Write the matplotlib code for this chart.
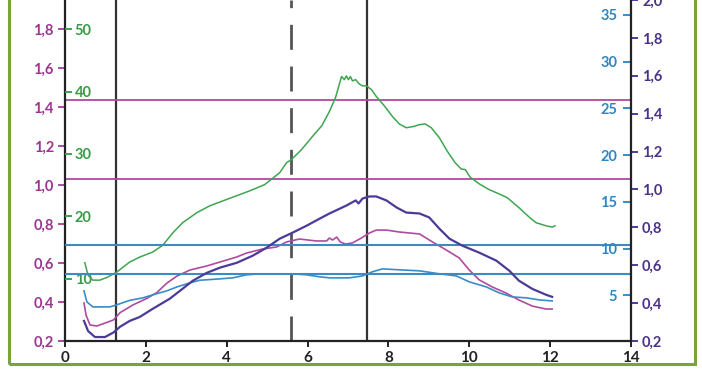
import matplotlib.pyplot as plt
from matplotlib.patches import Rectangle

plt.rcParams['font.family'] = ['Lato', 'DejaVu Sans']

# оси
x_ticks = [0, 2, 4, 6, 8, 10, 12, 14]
magenta_ticks = [0.2, 0.4, 0.6, 0.8, 1.0, 1.2, 1.4, 1.6, 1.8]
green_ticks = [10, 20, 30, 40, 50]
blue_ticks = [5, 10, 15, 20, 25, 30, 35]
purple_ticks = [0.2, 0.4, 0.6, 0.8, 1.0, 1.2, 1.4, 1.6, 1.8, 2.0]

# вертикальные и горизонтальные линии
vlines_solid = [1.26, 7.46]
vline_dashed = 5.58
magenta_levels = [1.435, 1.03]
blue_levels = [10.4, 7.3]

# зеленая кривая (левая внутренняя шкала)
green_x = [0.49, 0.57, 0.69, 0.86, 1.06, 1.28, 1.60, 1.85, 2.17, 2.42,
           2.67, 2.91, 3.26, 3.58, 3.99, 4.57, 4.94, 5.31, 5.48, 5.60,
           5.85, 6.12, 6.35, 6.54, 6.69, 6.84, 6.91, 6.96, 7.01, 7.06,
           7.11, 7.19, 7.28, 7.36, 7.46, 7.58, 7.70, 7.90, 8.10, 8.27,
           8.44, 8.62, 8.77, 8.91, 9.06, 9.26, 9.46, 9.65, 9.80, 9.90,
           10.02, 10.25, 10.49, 10.74, 10.94, 11.23, 11.48, 11.65, 11.90, 12.05,
           12.12]
green_y = [12.6, 10.6, 9.8, 9.8, 10.3, 11.1, 12.7, 13.5, 14.3, 15.4,
           17.4, 19.0, 20.6, 21.7, 22.7, 24.1, 25.1, 27.0, 28.6, 29.1,
           30.7, 32.8, 34.5, 36.8, 39.0, 42.4, 41.9, 42.5, 41.9, 42.4,
           41.7, 41.9, 41.2, 40.9, 40.9, 40.3, 39.2, 37.7, 36.0, 34.8,
           34.2, 34.4, 34.7, 34.8, 34.2, 32.6, 30.4, 28.6, 27.6, 27.5,
           26.3, 25.2, 24.3, 23.6, 23.0, 21.4, 19.9, 19.0, 18.5, 18.3,
           18.5]

# фиолетовая кривая (правая внешняя шкала)
purple_x = [0.47, 0.57, 0.74, 0.99, 1.20, 1.36, 1.60, 1.85, 2.17, 2.59,
            2.91, 3.16, 3.51, 3.83, 4.25, 4.64, 4.99, 5.31, 5.63, 5.98,
            6.30, 6.54, 6.96, 7.19, 7.26, 7.36, 7.53, 7.70, 7.95, 8.20,
            8.44, 8.77, 9.01, 9.26, 9.51, 9.83, 10.25, 10.67, 10.99, 11.23,
            11.56, 11.90, 12.05]
purple_y = [0.306, 0.253, 0.221, 0.221, 0.245, 0.275, 0.306, 0.327, 0.370, 0.423,
            0.476, 0.518, 0.560, 0.587, 0.613, 0.650, 0.693, 0.740, 0.772, 0.809,
            0.846, 0.873, 0.915, 0.942, 0.926, 0.952, 0.963, 0.963, 0.942, 0.905,
            0.878, 0.873, 0.852, 0.793, 0.740, 0.703, 0.666, 0.624, 0.571, 0.518,
            0.475, 0.444, 0.433]

# малиновая кривая (левая внешняя шкала)
magenta_x = [0.47, 0.52, 0.62, 0.79, 0.99, 1.20, 1.36, 1.68, 2.02, 2.27,
             2.52, 2.77, 3.09, 3.51, 3.83, 4.25, 4.49, 4.89, 5.23, 5.48,
             5.80, 6.22, 6.47, 6.54, 6.62, 6.72, 6.81, 6.94, 7.11, 7.33,
             7.53, 7.70, 7.95, 8.27, 8.77, 9.09, 9.43, 9.75, 10.0, 10.25,
             10.57, 10.91, 11.23, 11.56, 11.90, 12.05]
magenta_y = [0.395, 0.333, 0.282, 0.277, 0.292, 0.308, 0.345, 0.385, 0.418, 0.448,
             0.497, 0.533, 0.564, 0.585, 0.605, 0.631, 0.651, 0.672, 0.682, 0.708,
             0.723, 0.713, 0.713, 0.728, 0.718, 0.733, 0.708, 0.697, 0.703, 0.728,
             0.754, 0.769, 0.769, 0.759, 0.749, 0.708, 0.667, 0.626, 0.564, 0.513,
             0.477, 0.446, 0.410, 0.379, 0.364, 0.364]

# голубая кривая (правая внутренняя шкала)
blue_x = [0.47, 0.54, 0.69, 1.11, 1.28, 1.60, 1.93, 2.17, 2.52, 2.77,
          3.09, 3.33, 3.83, 4.15, 4.49, 4.81, 5.23, 5.63, 5.98, 6.30,
          6.54, 7.04, 7.36, 7.60, 7.85, 8.27, 8.77, 9.26, 9.68, 10.0,
          10.42, 10.74, 11.06, 11.41, 11.73, 12.05]
blue_y = [5.47, 4.29, 3.75, 3.75, 3.97, 4.45, 4.72, 5.04, 5.47, 5.89,
          6.32, 6.60, 6.75, 6.86, 7.18, 7.29, 7.29, 7.29, 7.18, 6.97,
          6.86, 6.86, 7.07, 7.50, 7.82, 7.72, 7.61, 7.29, 7.07, 6.43,
          5.89, 5.25, 4.82, 4.72, 4.50, 4.39]

c_green = '#3fa550'
c_magenta = '#b04aa0'
c_purple = '#4d3a98'
c_blue = '#3a8cc6'
c_frame = '#7aa33c'


def comma(v):
    return f"{v:.1f}".replace('.', ',')


fig = plt.figure(figsize=(7.02, 3.70), dpi=100)
ax = fig.add_axes([65 / 702, 1 - 341 / 370, (631 - 65) / 702, 341 / 370])
axg = ax.twinx()
axb = ax.twinx()
axp = ax.twinx()

for a in (ax, axg, axb, axp):
    a.set_xlim(0, 14)
    for s in ('top', 'left', 'right', 'bottom'):
        a.spines[s].set_visible(False)

ax.set_ylim(0.2, 1.949)
axg.set_ylim(0.06, 54.65)
axb.set_ylim(0.1, 36.6)
axp.set_ylim(0.2, 2.0)

ax.spines['left'].set_visible(True)
ax.spines['bottom'].set_visible(True)
axp.spines['right'].set_visible(True)
for a, s in ((ax, 'left'), (ax, 'bottom'), (axp, 'right')):
    a.spines[s].set_linewidth(1.6)
    a.spines[s].set_color('#222222')

# линии
for xv in vlines_solid:
    ax.axvline(xv, color='#333333', lw=1.6, zorder=1)
ax.axvline(vline_dashed, color='#555555', lw=2, ls=(0, (9, 6)), zorder=1)
for yv in magenta_levels:
    ax.axhline(yv, color=c_magenta, lw=1.3, zorder=1)
for yv in blue_levels:
    axb.axhline(yv, color=c_blue, lw=1.5, zorder=1)

axg.plot(green_x, green_y, color=c_green, lw=1.1)
ax.plot(magenta_x, magenta_y, color=c_magenta, lw=1.2)
axb.plot(blue_x, blue_y, color=c_blue, lw=1.2)
axp.plot(purple_x, purple_y, color=c_purple, lw=1.6)

# ось X
ax.set_xticks(x_ticks)
ax.set_xticklabels([str(v) for v in x_ticks])
ax.tick_params(axis='x', direction='out', length=4, width=1.4, color='#222222',
               labelsize=11, pad=3, labelcolor='#222222')
for a in (axg, axb, axp):
    a.tick_params(axis='x', bottom=False, labelbottom=False)

# левая внешняя шкала
ax.set_yticks(magenta_ticks)
ax.set_yticklabels([comma(v) for v in magenta_ticks])
ax.tick_params(axis='y', direction='out', length=5, width=1.4, color=c_magenta,
               labelcolor='#9c3590', labelsize=10.5, pad=3)

# левая внутренняя шкала (зеленая)
axg.yaxis.set_ticks_position('left')
axg.set_yticks(green_ticks)
axg.set_yticklabels([str(v) for v in green_ticks])
axg.tick_params(axis='y', left=True, right=False, labelleft=True, labelright=False,
                direction='in', length=5, width=1.4, color=c_green,
                labelcolor='#3a9a48', labelsize=10.5, pad=-7)
plt.setp(axg.get_yticklabels(), ha='left')

# правая внутренняя шкала (голубая)
axb.set_yticks(blue_ticks)
axb.set_yticklabels([str(v) for v in blue_ticks])
axb.tick_params(axis='y', direction='in', length=6, width=1.4, color=c_blue,
                labelcolor='#2f86c2', labelsize=10.5, pad=-10)
plt.setp(axb.get_yticklabels(), ha='right')

# правая внешняя шкала (фиолетовая)
axp.set_yticks(purple_ticks)
axp.set_yticklabels([comma(v) for v in purple_ticks])
axp.tick_params(axis='y', direction='out', length=5, width=1.4, color=c_purple,
                labelcolor='#4a3288', labelsize=10.5, pad=3)

for a in (ax, axg, axb, axp):
    for lbl in a.get_yticklabels() + a.get_xticklabels():
        lbl.set_fontweight('bold')

# зеленая рамка
fig.add_artist(Rectangle((9 / 702, 1 - 364 / 370), (695 - 9) / 702, 2,
                         transform=fig.transFigure, fill=False, ec=c_frame, lw=2.2))

fig.savefig('out.png', dpi=100)
